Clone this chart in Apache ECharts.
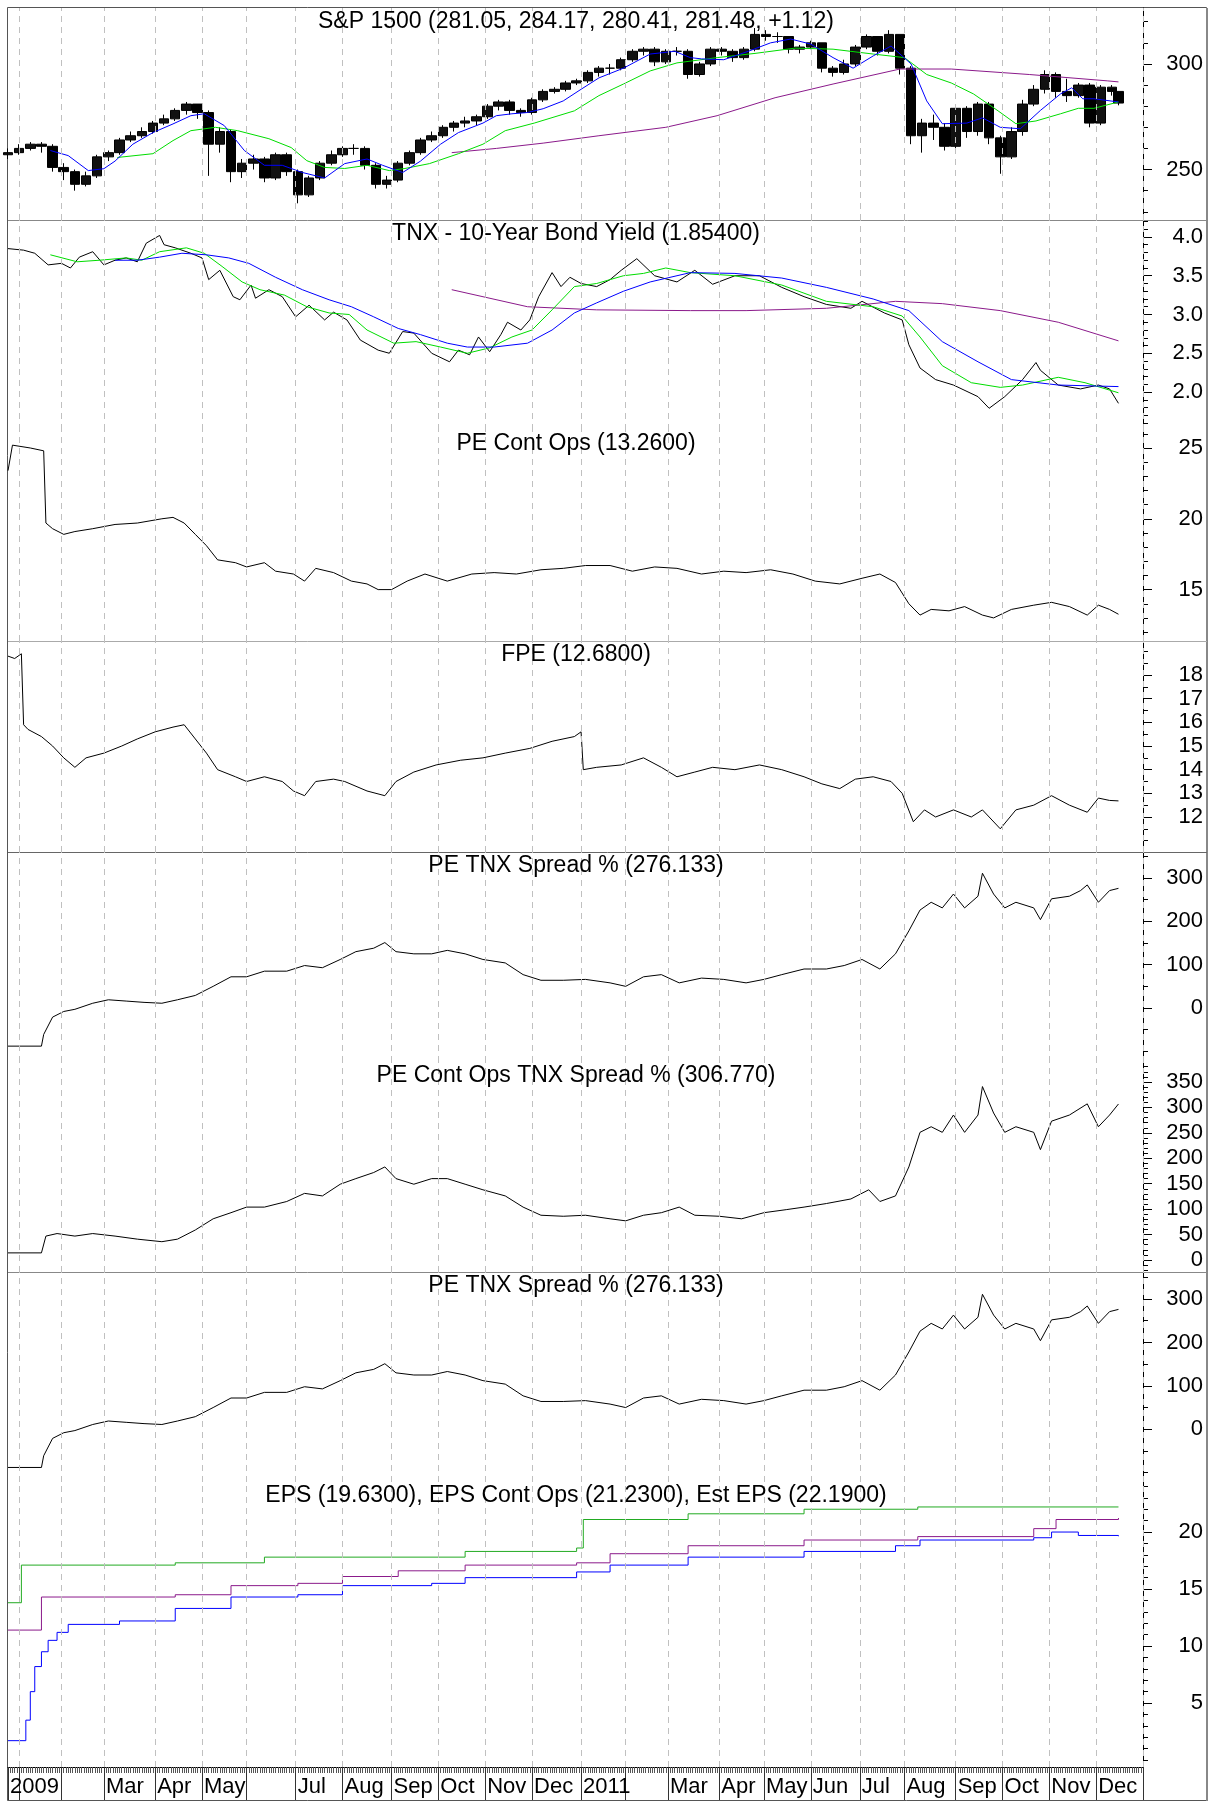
<!DOCTYPE html>
<html>
<head>
<meta charset="utf-8">
<script src="https://cdn.jsdelivr.net/npm/echarts@6.0.0/dist/echarts.min.js"></script>
<style>
  html, body { margin: 0; padding: 0; background: #fff; }
  #chart { width: 1209px; height: 1802px; }
</style>
</head>
<body>
<div id="chart"></div>
<script>
// x = trading-day index, 0 = Dec 24 2009
const monthStarts = [5, 24, 43, 66, 87, 107, 129, 150, 172, 193, 214, 235, 257, 277, 296, 319, 339, 360, 382, 402, 425, 446, 467, 488, 509];
const labelDays = [0, 43, 66, 87, 129, 150, 172, 193, 214, 235, 257, 296, 319, 339, 360, 382, 402, 425, 446, 467, 488];
const labelNames = ['2009', 'Mar', 'Apr', 'May', 'Jul', 'Aug', 'Sep', 'Oct', 'Nov', 'Dec', '2011', 'Mar', 'Apr', 'May', 'Jun', 'Jul', 'Aug', 'Sep', 'Oct', 'Nov', 'Dec'];

const panelTitles = [
  'S&P 1500 (281.05, 284.17, 280.41, 281.48, +1.12)',
  'TNX - 10-Year Bond Yield (1.85400)',
  'PE Cont Ops (13.2600)',
  'FPE (12.6800)',
  'PE TNX Spread % (276.133)',
  'PE Cont Ops TNX Spread % (306.770)',
  'PE TNX Spread % (276.133)',
  'EPS (19.6300), EPS Cont Ops (21.2300), Est EPS (22.1900)'
];
const yTickLabels = [
  [250, 300],
  [2.0, 2.5, 3.0, 3.5, 4.0],
  [15, 20, 25],
  [12, 13, 14, 15, 16, 17, 18],
  [0, 100, 200, 300],
  [0, 50, 100, 150, 200, 250, 300, 350],
  [0, 100, 200, 300],
  [5, 10, 15, 20]
];

// S&P 1500 weekly bars (days 0,5,10,...,495 then 498)
const spxOpen = [257,258,260,262,261,251,249,243,247,256,258,264,266,268,272,274,278,281,277,262,268,249,253,255,246,257,249,238,246,253,257,260,260,252,243,245,253,258,264,266,270,272,273,275,280,282,278,277,283,287,288,291,292,296,298,298,302,306,307,301,306,306,295,300,307,306,303,307,314,313,313,307,308,310,298,296,300,308,313,306,314,298,266,272,270,261,279,268,281,265,256,268,281,288,295,287,285,290,272,289,287];
const spxClose = [258,260,262,261,251,249,243,247,256,258,264,266,268,272,274,278,281,277,262,268,249,253,255,246,257,249,238,246,253,257,260,260,252,243,245,253,258,264,266,270,272,273,275,280,282,278,277,283,287,288,291,292,296,298,298,302,306,307,301,306,306,295,300,307,306,303,307,314,313,313,307,308,310,298,296,300,308,313,306,314,298,266,272,270,261,279,268,281,265,256,268,281,288,295,287,285,290,272,289,287,281.48];
const spxLow = [255,257,259,258,249,245,240,242,246,254,257,263,265,267,271,273,276,274,247,258,244,246,250,244,245,247,234,237,245,252,256,257,250,241,241,244,252,257,263,265,268,270,271,274,278,276,275,276,282,286,287,290,291,294,295,297,301,304,299,300,304,293,294,299,304,301,302,306,311,310,305,305,307,296,294,295,299,307,304,305,295,262,258,264,259,260,265,266,262,248,255,266,280,286,284,282,284,270,271,285,280.41];
const spxHigh = [260,262,263,263,262,253,250,249,257,259,265,268,270,273,276,279,282,281,278,270,269,255,257,256,258,258,250,247,254,259,261,262,261,253,247,254,259,265,268,271,273,275,276,281,283,283,279,284,288,289,292,293,297,299,300,303,307,308,308,307,308,307,301,308,308,307,308,317,316,315,313,309,311,310,299,302,309,314,313,316,314,299,274,276,272,281,280,282,282,266,270,283,290,297,296,293,291,291,290,290,287];

const spxMa20 = [[19,259],[27,256.6],[36,249.5],[43,250.4],[48,254],[56,262],[65,267.5],[74,271.6],[82,275.5],[88,276.4],[97,270.8],[106,259],[115,252],[123,252],[132,248.6],[142,246],[151,252.8],[161,255],[168,252],[177,248.6],[185,254],[194,262],[202,267.5],[213,272],[219,275.5],[226,276.4],[233,277],[240,278.8],[249,282.5],[257,288],[265,293.4],[276,298],[288,304.7],[299,306],[306,303],[311,302.4],[321,302],[332,306],[342,310],[351,311.8],[360,309.4],[370,303],[379,298],[388,303.8],[396,308.5],[405,300],[412,282.5],[419,271.7],[430,272],[437,274.5],[445,270],[454,269.3],[463,278],[472,285.8],[477,288.7],[482,283.5],[487,283.5],[498,282]];
const spxMa50 = [[49,255.7],[65,257.5],[74,263.7],[82,268.4],[93,270],[103,268.4],[117,264.6],[127,260.4],[134,254.2],[142,251],[151,250.5],[161,252],[171,249.5],[178,250.5],[189,252.8],[202,257.5],[213,262],[223,268.4],[236,272],[254,277.8],[265,285],[276,290.5],[288,296.7],[300,300.5],[318,303],[335,305],[353,307.5],[370,307],[388,304.7],[402,303],[412,295],[423,291],[433,285.8],[444,277.8],[452,271.7],[461,273],[472,276.4],[480,279],[487,279],[498,282]];
const spxMa200 = [[199,258],[219,260],[240,262.5],[265,266],[295,270],[318,275.5],[344,284],[370,290.5],[400,297.6],[423,297.6],[458,295],[493,292],[498,291.5]];

const tnx = [[0,3.85],[7,3.83],[12,3.79],[18,3.64],[24,3.66],[28,3.60],[32,3.74],[38,3.81],[43,3.64],[48,3.70],[53,3.73],[58,3.68],[62,3.92],[68,4.02],[70,3.90],[75,3.86],[82,3.79],[87,3.73],[90,3.45],[95,3.57],[101,3.23],[104,3.19],[109,3.38],[111,3.21],[117,3.32],[123,3.23],[129,2.97],[135,3.12],[142,2.93],[146,3.03],[152,2.93],[158,2.67],[166,2.54],[171,2.50],[177,2.78],[182,2.76],[190,2.50],[198,2.39],[202,2.54],[207,2.48],[211,2.71],[216,2.52],[221,2.74],[224,2.90],[230,2.80],[234,2.93],[238,3.23],[244,3.54],[248,3.36],[252,3.48],[257,3.40],[264,3.36],[270,3.45],[275,3.57],[282,3.72],[290,3.50],[300,3.42],[308,3.57],[316,3.39],[326,3.50],[337,3.50],[347,3.35],[357,3.23],[367,3.13],[378,3.08],[383,3.17],[393,3.02],[401,2.93],[404,2.61],[409,2.31],[416,2.16],[424,2.09],[435,1.94],[440,1.79],[447,1.94],[455,2.16],[461,2.38],[463,2.28],[471,2.09],[481,2.04],[489,2.09],[494,2.04],[498,1.854]];
const tnxMa20 = [[19,3.77],[31,3.68],[41,3.70],[53,3.73],[60,3.70],[68,3.81],[80,3.86],[88,3.79],[96,3.62],[105,3.42],[113,3.32],[124,3.25],[134,3.10],[144,3.02],[153,3.00],[161,2.80],[173,2.63],[183,2.65],[194,2.58],[206,2.50],[216,2.57],[226,2.71],[235,2.80],[244,3.06],[254,3.36],[264,3.40],[276,3.50],[285,3.53],[295,3.60],[306,3.54],[326,3.50],[347,3.38],[367,3.17],[388,3.10],[401,2.98],[409,2.71],[419,2.34],[432,2.12],[445,2.06],[455,2.09],[471,2.19],[483,2.12],[498,1.99]];
const tnxMa50 = [[48,3.70],[58,3.70],[68,3.74],[78,3.79],[89,3.77],[99,3.73],[108,3.66],[120,3.48],[132,3.32],[144,3.19],[154,3.10],[164,2.97],[175,2.82],[185,2.74],[197,2.63],[206,2.58],[218,2.58],[233,2.63],[244,2.80],[254,3.02],[264,3.15],[276,3.30],[288,3.42],[306,3.54],[326,3.53],[347,3.47],[367,3.35],[388,3.20],[404,3.05],[419,2.65],[435,2.39],[450,2.16],[471,2.09],[498,2.07]];
const tnxMa200 = [[199,3.32],[233,3.10],[264,3.06],[306,3.05],[331,3.05],[367,3.08],[398,3.17],[419,3.14],[445,3.05],[471,2.90],[498,2.66]];

const peContOps = [[0,23.4],[2,25.2],[10,25.0],[16,24.8],[17,19.7],[20,19.3],[25,18.9],[30,19.1],[38,19.3],[48,19.6],[58,19.7],[69,20.0],[74,20.1],[79,19.7],[84,18.9],[89,18.1],[94,17.1],[102,16.9],[107,16.6],[115,16.9],[120,16.3],[128,16.1],[133,15.6],[138,16.5],[146,16.2],[154,15.6],[161,15.4],[166,15.0],[172,15.0],[179,15.6],[187,16.1],[197,15.6],[208,16.1],[218,16.2],[228,16.1],[239,16.4],[249,16.5],[259,16.7],[270,16.7],[280,16.3],[290,16.6],[300,16.5],[311,16.1],[321,16.3],[331,16.2],[342,16.4],[352,16.1],[362,15.6],[373,15.4],[383,15.8],[391,16.1],[398,15.5],[404,14.0],[409,13.2],[414,13.6],[422,13.5],[429,13.8],[437,13.2],[442,13.0],[450,13.6],[460,13.9],[468,14.1],[476,13.8],[484,13.2],[489,13.9],[494,13.6],[498,13.26]];
const fpe = [[0,18.8],[3,18.7],[6,18.9],[7,15.9],[9,15.7],[15,15.4],[20,15.0],[25,14.5],[30,14.1],[35,14.5],[43,14.7],[51,15.0],[58,15.3],[66,15.6],[74,15.8],[79,15.9],[84,15.3],[89,14.7],[94,14.0],[102,13.7],[107,13.5],[115,13.7],[123,13.5],[128,13.1],[133,12.9],[138,13.5],[146,13.6],[151,13.5],[161,13.1],[169,12.9],[174,13.5],[182,13.9],[192,14.2],[203,14.4],[213,14.5],[223,14.7],[234,14.9],[244,15.2],[254,15.4],[257,15.6],[258,14.0],[264,14.1],[275,14.2],[285,14.5],[293,14.1],[300,13.7],[308,13.9],[316,14.1],[326,14.0],[337,14.2],[347,14.0],[357,13.7],[365,13.4],[373,13.2],[380,13.6],[388,13.7],[396,13.5],[401,13.0],[406,11.8],[411,12.3],[416,12.0],[424,12.3],[432,12.0],[437,12.3],[445,11.5],[452,12.3],[460,12.5],[468,12.9],[476,12.5],[484,12.2],[489,12.8],[494,12.7],[498,12.68]];
const peTnxSpread = [[0,-88],[15,-88],[16,-61],[20,-21],[25,-8],[30,-3],[38,11],[45,19],[53,16],[61,13],[69,11],[76,19],[84,29],[92,50],[100,72],[107,72],[115,85],[125,85],[133,98],[141,93],[149,112],[156,130],[164,138],[169,151],[174,130],[182,125],[190,125],[197,133],[205,125],[213,112],[223,104],[231,77],[239,64],[249,64],[259,66],[270,58],[277,50],[285,72],[293,77],[301,58],[311,69],[321,66],[331,58],[339,66],[347,77],[357,90],[367,90],[375,98],[383,112],[391,90],[398,125],[404,178],[409,226],[414,244],[419,231],[424,263],[429,231],[435,258],[437,311],[442,263],[447,231],[452,244],[460,231],[463,204],[468,252],[476,258],[481,271],[484,284],[489,244],[494,271],[498,276.133]];
const peContOpsTnxSpread = [[0,14],[15,14],[17,47],[22,52],[30,47],[38,52],[48,47],[58,41],[69,36],[76,41],[84,59],[92,81],[100,93],[107,104],[115,104],[125,115],[133,131],[141,126],[149,149],[156,160],[164,172],[169,183],[174,160],[182,149],[190,160],[197,160],[205,149],[213,138],[223,126],[231,104],[239,88],[249,86],[259,88],[270,81],[277,77],[285,88],[293,93],[301,104],[308,88],[319,86],[329,81],[339,93],[349,99],[357,104],[367,111],[378,120],[386,138],[391,115],[398,126],[404,183],[409,251],[414,262],[419,251],[424,285],[429,251],[435,285],[437,341],[442,289],[447,251],[452,262],[460,251],[463,217],[468,273],[476,285],[484,307],[489,262],[494,285],[498,306.77]];

const eps = [[0,1.7],[8,3.5],[10,6],[12,8.2],[15,9.5],[18,10.5],[22,11.2],[27,11.9],[50,12.2],[75,13.3],[100,14.3],[130,14.5],[150,15.3],[190,15.5],[205,16.0],[255,16.5],[270,17.1],[305,17.8],[357,18.3],[398,18.8],[409,19.3],[460,19.5],[468,20.0],[480,19.7],[498,19.63]];
const epsContOps = [[0,11.4],[15,14.3],[75,14.5],[100,15.3],[130,15.5],[150,16.1],[175,16.6],[205,17.1],[255,17.3],[270,18.1],[305,18.8],[357,19.3],[408,19.6],[460,20.3],[470,21.1],[498,21.23]];
const estEps = [[0,13.8],[6,17.1],[75,17.3],[115,17.8],[205,18.3],[255,18.6],[258,21.1],[305,21.6],[357,22.0],[408,22.2],[498,22.19]];

const FONT = '"Liberation Sans", Arial, sans-serif';
const panelTop = [8, 220, 430, 641, 852, 1062, 1272, 1482];
const panelHeight = [212, 210, 211, 211, 210, 210, 210, 285];
const yMin = [226.1, 1.51, 11.37, 10.52, -124.6, -23.6, -121.5, -0.61];
const yMax = [326.5, 4.219, 26.27, 19.44, 360, 389.3, 362.3, 24.39];
const minorStep = [10, 0.1, 1, 0.5, 50, 10, 50, 1];

function steps(lo, hi, step) {
  const out = [];
  for (let v = Math.ceil(lo / step) * step; v <= hi + 1e-9; v += step) out.push(Math.round(v * 100) / 100);
  return out;
}

const weekDays = [];
for (let d = 0; d <= 495; d += 5) weekDays.push(d);
weekDays.push(498);

const grid = [], xAxis = [], yAxis = [], series = [], graphic = [];

panelTop.forEach((top, i) => {
  grid.push({ left: 8, right: 66, top: top, height: panelHeight[i] });
  xAxis.push({ type: 'value', gridIndex: i, min: 0, max: 509, show: false });
  yAxis.push({
    type: 'value', gridIndex: i, position: 'right', min: yMin[i], max: yMax[i],
    axisLine: { show: true, onZero: false, lineStyle: { color: '#000', width: 1 } },
    axisTick: { show: true, customValues: yTickLabels[i], length: 9, lineStyle: { color: '#000' } },
    axisLabel: {
      customValues: yTickLabels[i], align: 'right', margin: 60,
      fontSize: 22, color: '#000', fontFamily: FONT,
      formatter: v => (i === 1 ? v.toFixed(1) : String(v))
    },
    splitLine: { show: false }
  });
  yAxis.push({
    type: 'value', gridIndex: i, position: 'right', min: yMin[i], max: yMax[i],
    axisLine: { show: false, onZero: false },
    axisTick: { show: true, customValues: steps(yMin[i], yMax[i], minorStep[i]), length: 5, lineStyle: { color: '#000' } },
    axisLabel: { show: false },
    splitLine: { show: false }
  });
  // dashed month grid lines
  series.push({
    type: 'line', xAxisIndex: i, yAxisIndex: 2 * i, data: [], silent: true, z: 1,
    markLine: {
      silent: true, symbol: 'none', label: { show: false }, animation: false,
      lineStyle: { color: '#c0c0c0', type: [6, 5], width: 1 },
      data: monthStarts.map(d => ({ xAxis: d }))
    }
  });
  graphic.push({
    type: 'text', x: 576, y: top + 14, silent: true, z: 10,
    style: {
      text: panelTitles[i], fill: '#000', font: '23px ' + FONT,
      textAlign: 'center', textVerticalAlign: 'middle'
    }
  });
});

// bottom date axes on the last panel
xAxis[7] = {
  type: 'value', gridIndex: 7, min: 0, max: 509, interval: 1,
  axisLine: { show: true, onZero: false, lineStyle: { color: '#000' } },
  axisTick: { show: true, length: 6, lineStyle: { color: '#555' } },
  axisLabel: { show: false },
  splitLine: { show: false }
};
xAxis.push({
  type: 'value', gridIndex: 7, min: 0, max: 509, position: 'bottom',
  axisLine: { show: false, onZero: false },
  axisTick: { show: true, customValues: [0].concat(monthStarts), length: 33, lineStyle: { color: '#333' } },
  axisLabel: {
    customValues: labelDays, align: 'left', margin: 9, padding: [0, 0, 0, 2],
    fontSize: 22, color: '#000', fontFamily: FONT,
    formatter: v => labelNames[labelDays.indexOf(v)]
  },
  splitLine: { show: false }
});

function line(data, idx, color, extra) {
  return Object.assign({
    type: 'line', xAxisIndex: idx, yAxisIndex: 2 * idx, data: data, showSymbol: false, symbol: 'none',
    lineStyle: { color: color, width: 1 }, z: 3
  }, extra || {});
}

series.push({
  type: 'candlestick', xAxisIndex: 0, yAxisIndex: 0, barWidth: 10, z: 2,
  encode: { x: 0, y: [1, 2, 3, 4] },
  data: weekDays.map((d, k) => [d, spxOpen[k], spxClose[k], spxLow[k], spxHigh[k]]),
  itemStyle: { color: '#111', color0: '#000', borderColor: '#000', borderColor0: '#000', borderWidth: 1 }
});
series.push(line(spxMa200, 0, '#8b1a8b'));
series.push(line(spxMa50, 0, '#00dd00'));
series.push(line(spxMa20, 0, '#0000ff'));

series.push(line(tnx, 1, '#000'));
series.push(line(tnxMa200, 1, '#8b1a8b'));
series.push(line(tnxMa20, 1, '#00dd00'));
series.push(line(tnxMa50, 1, '#0000ff'));

series.push(line(peContOps, 2, '#000'));
series.push(line(fpe, 3, '#000'));
series.push(line(peTnxSpread, 4, '#000'));
series.push(line(peContOpsTnxSpread, 5, '#000'));
series.push(line(peTnxSpread, 6, '#000'));

series.push(line(estEps, 7, '#22aa22', { step: 'end' }));
series.push(line(epsContOps, 7, '#8b1a8b', { step: 'end' }));
series.push(line(eps, 7, '#0000ff', { step: 'end' }));

graphic.push(
  { type: 'rect', shape: { x: 7.5, y: 7.5, width: 1199, height: 1793 }, style: { fill: 'none', stroke: '#555', lineWidth: 1 }, silent: true },
  { type: 'line', shape: { x1: 1207, y1: 8, x2: 1207, y2: 1801 }, style: { stroke: '#888', lineWidth: 2 }, silent: true },
  { type: 'line', shape: { x1: 8, y1: 220.5, x2: 1207, y2: 220.5 }, style: { stroke: '#888', lineWidth: 1 }, silent: true },
  { type: 'line', shape: { x1: 8, y1: 641.5, x2: 1207, y2: 641.5 }, style: { stroke: '#aaa', lineWidth: 1 }, silent: true },
  { type: 'line', shape: { x1: 8, y1: 852.5, x2: 1207, y2: 852.5 }, style: { stroke: '#666', lineWidth: 1 }, silent: true },
  { type: 'line', shape: { x1: 8, y1: 1272.5, x2: 1207, y2: 1272.5 }, style: { stroke: '#888', lineWidth: 1 }, silent: true }
);

const chart = echarts.init(document.getElementById('chart'), null, { renderer: 'canvas' });
chart.setOption({
  animation: false,
  backgroundColor: '#fff',
  grid: grid,
  xAxis: xAxis,
  yAxis: yAxis,
  series: series,
  graphic: graphic
});
</script>
</body>
</html>
